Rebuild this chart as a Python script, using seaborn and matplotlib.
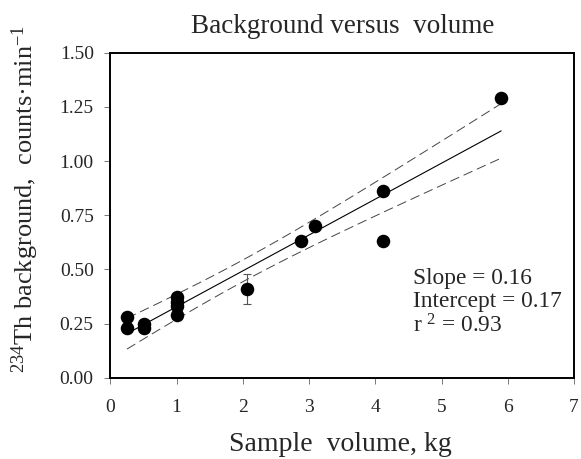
import numpy as np
import pandas as pd
import matplotlib
matplotlib.use("Agg")
import matplotlib.pyplot as plt
import seaborn as sns

# Sample volume (kg) and 234Th background (counts/min)
volume = [0.25, 0.25, 0.5, 0.5, 1.0, 1.0, 1.0, 1.0, 2.06, 2.88, 3.09, 4.11, 4.11, 5.9]
background = [0.28, 0.23, 0.25, 0.23, 0.375, 0.35, 0.33, 0.29, 0.41, 0.63, 0.70, 0.86, 0.63, 1.29]

# the one point with an error bar
err_x = [2.06]
err_y = [0.41]
err_size = [0.07]

x_ticks = [0, 1, 2, 3, 4, 5, 6, 7]
y_ticks = [0.00, 0.25, 0.50, 0.75, 1.00, 1.25, 1.50]

stats_text = "Slope = 0.16\nIntercept = 0.17\nr $^2$ = 0.93"

sns.set_style("white")
plt.rcParams['font.family'] = ['Liberation Serif', 'DejaVu Serif']
plt.rcParams['mathtext.fontset'] = 'custom'
plt.rcParams['mathtext.rm'] = 'Liberation Serif'
plt.rcParams['mathtext.it'] = 'Liberation Serif:italic'

df = pd.DataFrame({'volume': volume, 'background': background})

# linear fit with 95% confidence band
x = np.array(volume)
y = np.array(background)
slope, intercept = np.polyfit(x, y, 1)
n = len(x)
resid = y - (slope * x + intercept)
s = np.sqrt((resid ** 2).sum() / (n - 2))
sxx = ((x - x.mean()) ** 2).sum()
xs = np.linspace(x.min(), x.max(), 50)
fit = slope * xs + intercept
half = 2.179 * s * np.sqrt(1 / n + (xs - x.mean()) ** 2 / sxx)
fit_df = pd.DataFrame({'x': xs, 'fit': fit, 'lo': fit - half, 'hi': fit + half})

fig, ax = plt.subplots(figsize=(5.81, 4.59), dpi=100)
fig.subplots_adjust(left=0.190, right=0.988, bottom=0.1765, top=0.8856)

sns.lineplot(data=fit_df, x='x', y='fit', ax=ax, color='black', lw=0.8)
sns.lineplot(data=fit_df, x='x', y='hi', ax=ax, color='#444444', lw=0.7,
             dashes=False, linestyle=(0, (10, 5)))
sns.lineplot(data=fit_df, x='x', y='lo', ax=ax, color='#444444', lw=0.7,
             dashes=False, linestyle=(0, (10, 5)))

ax.errorbar(err_x, err_y, yerr=err_size, fmt='none', ecolor='#555555',
            elinewidth=0.8, capsize=3, capthick=0.8, zorder=2)
sns.scatterplot(data=df, x='volume', y='background', ax=ax, color='black',
                s=95, edgecolor='black', linewidth=0, zorder=3)

ax.set_xlim(0, 7)
ax.set_ylim(0, 1.5)
ax.set_xticks(x_ticks)
ax.set_yticks(y_ticks)
ax.set_yticklabels([f"{v:.2f}" for v in y_ticks])
ax.tick_params(axis='both', direction='out', length=4, width=0.7,
               color='#777777', labelsize=14, bottom=True, left=True)
ax.tick_params(axis='x', pad=11)
ax.tick_params(axis='y', pad=8)

for sp in ax.spines.values():
    sp.set_color('black')
    sp.set_linewidth(1.4)

ax.set_title("Background versus  volume", fontsize=19.5, pad=14)
ax.set_xlabel("Sample  volume, kg", fontsize=20, va='top')
ax.set_ylabel("$^{234}$Th background,  counts\u00b7min$^{-1}$", fontsize=19)
ax.xaxis.set_label_coords(0.495, -0.165)
ax.yaxis.set_label_coords(-0.15, 0.55)

ax.text(4.57, 0.505, stats_text, fontsize=16.8, va='top', ha='left', linespacing=1.1)

fig.savefig("out.png", dpi=100)
